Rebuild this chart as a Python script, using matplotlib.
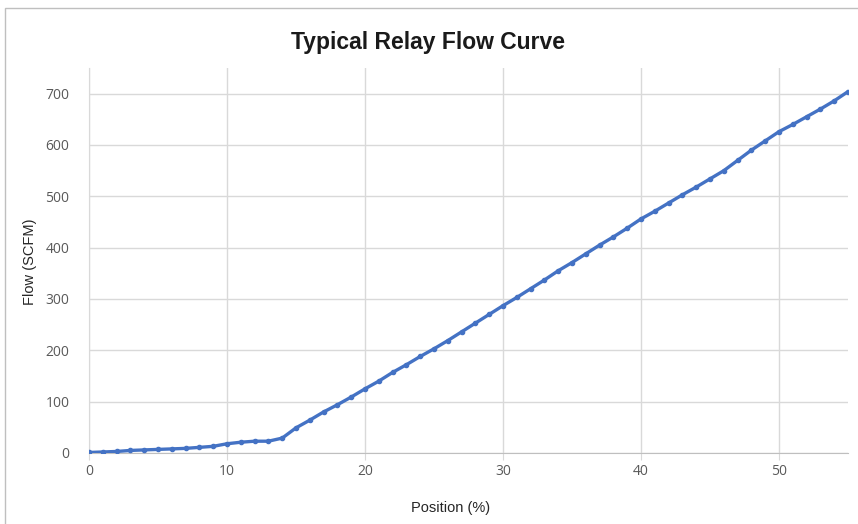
import matplotlib
matplotlib.use("Agg")
import matplotlib.pyplot as plt
from matplotlib.patches import Rectangle

position = list(range(0, 56))
flow = [1, 2, 3, 5, 6, 7, 8, 9, 11, 13,
        18, 21, 23, 23, 29, 49, 64, 80, 94, 109,
        125, 140, 157, 172, 188, 203, 219, 236, 253, 270,
        287, 303, 320, 337, 355, 371, 388, 405, 421, 438,
        456, 471, 487, 503, 518, 534, 550, 570, 590, 608,
        626, 640, 655, 670, 686, 704]

x_ticks = [0, 10, 20, 30, 40, 50]
y_ticks = [0, 100, 200, 300, 400, 500, 600, 700]

blue = "#4472C4"
grid_col = "#D9D9D9"
text_col = "#595959"

fig = plt.figure(figsize=(8.58, 5.24), dpi=100)
# thin frame round the chart area (left and top edges visible)
fig.patches.append(Rectangle((5 / 858, -0.1), 1.2, (524 - 8) / 524 + 0.1,
                             transform=fig.transFigure, fill=False,
                             edgecolor="#BFBFBF", linewidth=1.0))

ax = fig.add_axes([89 / 858, (524 - 453) / 524, 759 / 858, 385 / 524])
ax.plot(position, flow, color=blue, linewidth=2.4, marker="o",
        markersize=3.0, zorder=3)

ax.set_xlim(0, 55)
ax.set_ylim(0, 750)
ax.set_xticks(x_ticks)
ax.set_yticks(y_ticks)
ax.grid(True, color=grid_col, linewidth=1.0)
for side in ["top", "right"]:
    ax.spines[side].set_visible(False)
ax.spines["left"].set_color(grid_col)
ax.spines["bottom"].set_color("#BFBFBF")
ax.tick_params(axis="x", length=5, color=grid_col, labelcolor=text_col,
               labelsize=10, pad=3)
ax.tick_params(axis="y", length=0, labelcolor=text_col, labelsize=10, pad=14)
for lab in ax.get_xticklabels() + ax.get_yticklabels():
    lab.set_family("Open Sans")

fig.text(428 / 858, 1 - 42 / 524, "Typical Relay Flow Curve", ha="center",
         va="center", fontsize=16.5, fontweight="bold",
         family="Liberation Sans", color="#1a1a1a")
fig.text(30 / 858, 1 - 262 / 524, "Flow (SCFM)", rotation=90, ha="center",
         va="center", fontsize=10.5, family="Liberation Sans", color="#262626")
fig.text(451 / 858, 1 - 508 / 524, "Position (%)", ha="center", va="center",
         fontsize=10.5, family="Liberation Sans", color="#262626")

fig.savefig("out.png", dpi=100)
